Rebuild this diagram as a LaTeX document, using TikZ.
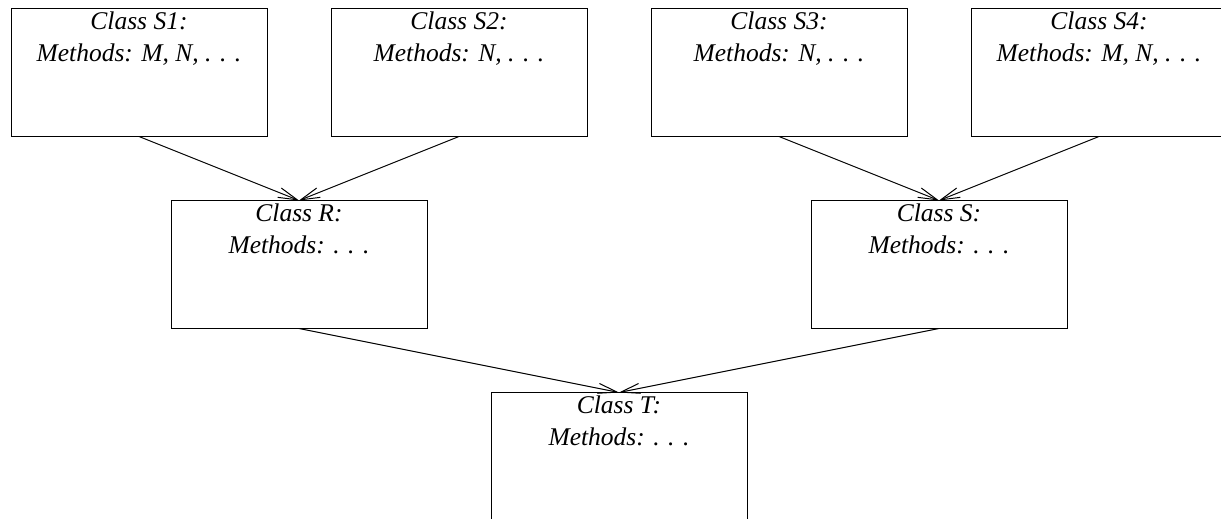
\documentclass[tikz,border=0pt]{standalone}
\usepackage{fontspec}
\setmainfont{Liberation Serif}
\usetikzlibrary{arrows.meta}
\begin{document}
\begin{tikzpicture}[x=1pt,y=-1pt,
  classbox/.style={draw,rectangle,line width=1pt,minimum width=256pt,minimum height=128pt,inner sep=0pt,outer sep=0pt},
  txt/.style={anchor=base,inner sep=0pt,font=\fontsize{25.5}{32}\selectfont\itshape},
  inh/.style={line width=1pt,-{Straight Barb[length=19pt,width=10pt,line width=1pt]}}]
\useasboundingbox (0,0) rectangle (1221,519);
\clip (0,0) rectangle (1221,519);
% boxes
\node[classbox] (s1) at (139,72.5) {};
\node[classbox] (s2) at (459,72.5) {};
\node[classbox] (s3) at (779,72.5) {};
\node[classbox] (s4) at (1099,72.5) {};
\node[classbox] (r) at (299,264.5) {};
\node[classbox] (s) at (939,264.5) {};
\node[classbox] (t) at (619,456.5) {};
% texts
\node[txt] (s1a) at (139,29.2) {Class S1:};
\node[txt] (s1b) at (139,61.9) {Methods: M, N, . . .};
\node[txt] (s2a) at (459,29.2) {Class S2:};
\node[txt] (s2b) at (459,61.9) {Methods: N, . . .};
\node[txt] (s3a) at (779,29.2) {Class S3:};
\node[txt] (s3b) at (779,61.9) {Methods: N, . . .};
\node[txt] (s4a) at (1099,29.2) {Class S4:};
\node[txt] (s4b) at (1099,61.9) {Methods: M, N, . . .};
\node[txt] (ra) at (299,221.2) {Class R:};
\node[txt] (rb) at (299,253.9) {Methods: . . .};
\node[txt] (sa) at (939,221.2) {Class S:};
\node[txt] (sb) at (939,253.9) {Methods: . . .};
\node[txt] (ta) at (619,413.2) {Class T:};
\node[txt] (tb) at (619,445.9) {Methods: . . .};
% connectors
\draw[inh] (s1.south) -- (r.north);
\draw[inh] (s2.south) -- (r.north);
\draw[inh] (s3.south) -- (s.north);
\draw[inh] (s4.south) -- (s.north);
\draw[inh] (r.south) -- (t.north);
\draw[inh] (s.south) -- (t.north);
\end{tikzpicture}
\end{document}
